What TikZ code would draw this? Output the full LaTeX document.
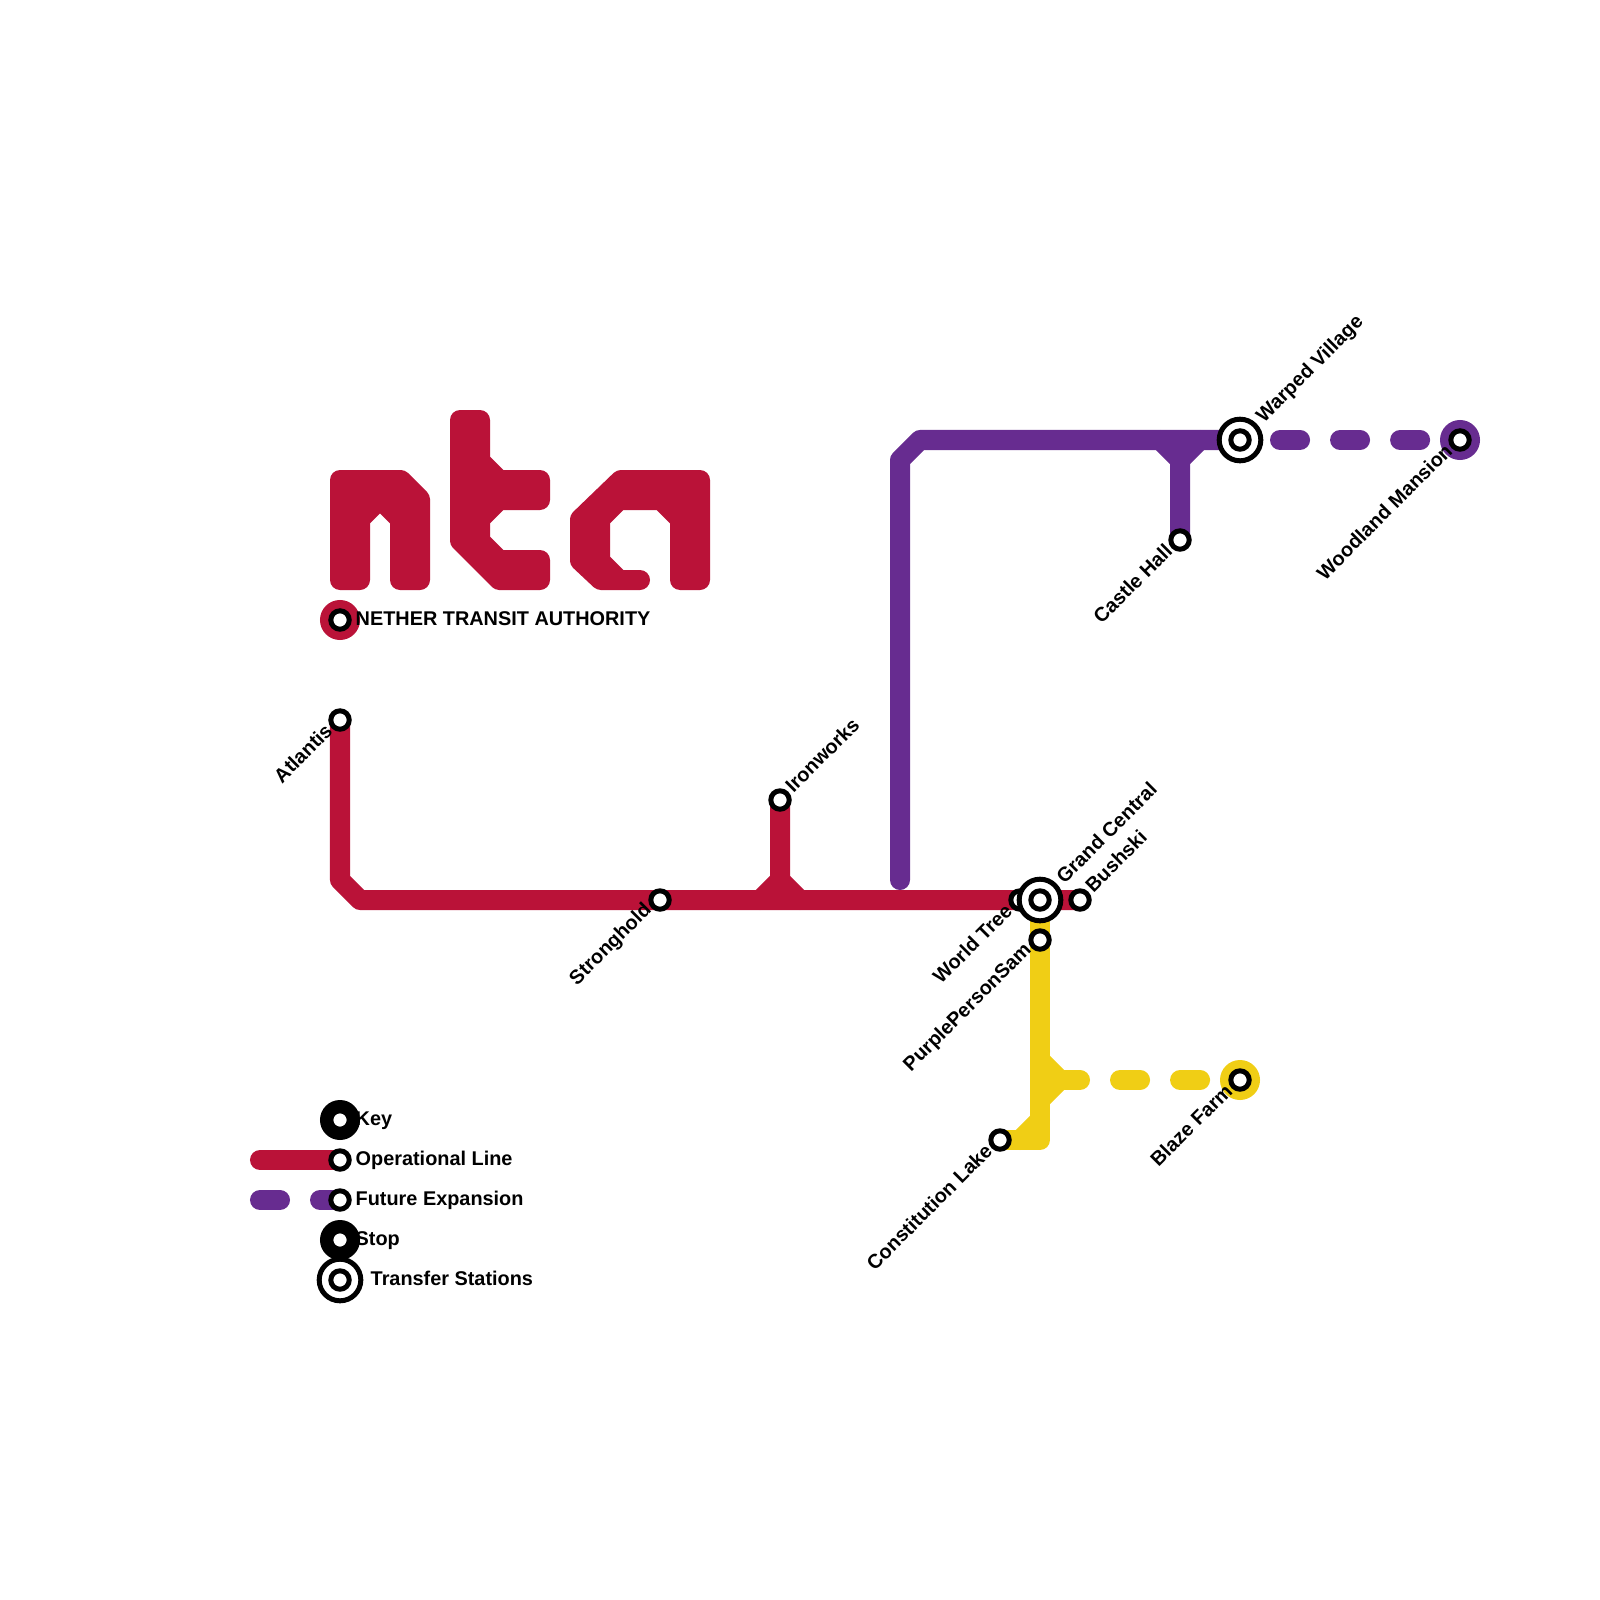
\documentclass[tikz,border=0pt]{standalone}
\usepackage{fontspec}
\setmainfont{Liberation Sans}
\usepackage{xcolor}
\usetikzlibrary{backgrounds}
\definecolor{ntared}{HTML}{BA1238}
\definecolor{ntapurple}{HTML}{672C90}
\definecolor{ntayellow}{HTML}{F0CE15}
\tikzset{
  ln/.style={line width=2mm,line cap=round,line join=round},
  fut/.style={ln,dash pattern=on 2mm off 4mm},
  stn/.style={circle,draw=black,fill=white,line width=0.5mm,minimum size=1.84mm,inner sep=0pt},
  xfer/.style={stn,minimum size=4.16mm,path picture={\draw[line width=0.5mm] (path picture bounding box.center) circle (0.92mm);}},
  halo/.style={circle,fill=#1,minimum size=4mm,inner sep=0pt},
  txt/.style={font=\bfseries\fontsize{5.65}{7}\selectfont,inner sep=0pt,text=black},
  lblne/.style={txt,rotate=45,anchor=west},
  lblsw/.style={txt,rotate=45,anchor=east},
  keytxt/.style={txt,anchor=base west}
}
\begin{document}
\begin{tikzpicture}[x=0.01cm,y=-0.01cm]
\useasboundingbox (0,0) rectangle (1600,1600);
\coordinate (redbenda) at (340,880); \coordinate (redbendb) at (360,900);
\coordinate (ironfoot) at (780,880); \coordinate (ironl) at (760,900); \coordinate (ironr) at (800,900);
\coordinate (purpend) at (900,880); \coordinate (purpbenda) at (900,460); \coordinate (purpbendb) at (920,440);
\coordinate (castlefoot) at (1180,460); \coordinate (castlel) at (1160,440); \coordinate (castler) at (1200,440);
\coordinate (yelcorner) at (1040,1140); \coordinate (yeldiaga) at (1040,1120); \coordinate (yeldiagb) at (1020,1140);
\coordinate (yeltop) at (1040,1060); \coordinate (yelmid) at (1060,1080); \coordinate (yelbot) at (1040,1100);
\coordinate (keyredend) at (260,1160); \coordinate (keypurpend) at (260,1200);
\node[halo=ntared] (ntahalo) at (340,620) {}; \node[halo=ntapurple] (woodhalo) at (1460,440) {}; \node[halo=ntayellow] (blazehalo) at (1240,1080) {};
\node[halo=black] (keyhalo) at (340,1120) {}; \node[halo=black] (stophalo) at (340,1240) {};
\node[stn] (nta) at (ntahalo) {}; \node[stn] (woodland) at (woodhalo) {}; \node[stn] (blaze) at (blazehalo) {};
\node[stn] (keystn) at (keyhalo) {}; \node[stn] (stopstn) at (stophalo) {};
\node[stn] (atlantis) at (340,720) {}; \node[stn] (stronghold) at (660,900) {}; \node[stn] (ironworks) at (780,800) {};
\node[stn] (worldtree) at (1020,900) {}; \node[stn] (bushski) at (1080,900) {}; \node[stn] (purpleperson) at (1040,940) {};
\node[stn] (constitution) at (1000,1140) {}; \node[stn] (castle) at (1180,540) {};
\node[xfer] (grand) at (1040,900) {}; \node[xfer] (warped) at (1240,440) {};
\node[stn] (keyred) at (340,1160) {}; \node[stn] (keypurp) at (340,1200) {}; \node[xfer] (keyxfer) at (340,1280) {};
\begin{pgfonlayer}{background}
\fill[ntared,rounded corners=1mm] (330,470) [rounded corners=0.4mm] -- (405,470) -- (430,495) [rounded corners=1mm] -- (430,590) -- (390,590) [sharp corners] -- (390,523.3) -- (380,513.3) -- (370,523.3) [rounded corners=1mm] -- (370,590) -- (330,590) -- cycle;
\fill[ntared,rounded corners=1mm] (450,410) -- (490,410) [sharp corners] -- (490,456.7) -- (503.3,470) [rounded corners=1mm] -- (550,470) -- (550,510) [sharp corners] -- (503.3,510) -- (490,523.3) -- (490,536.7) -- (503.3,550) [rounded corners=1mm] -- (550,550) -- (550,590) [rounded corners=0.4mm] -- (495,590) -- (450,545) [rounded corners=1mm] -- cycle;
\fill[ntared,rounded corners=0.4mm] (570,515) -- (616.7,470) [rounded corners=1mm] -- (710,470) -- (710,590) -- (670,590) [sharp corners] -- (670,523.3) -- (656.7,510) -- (623.3,510) -- (610,523.3) -- (610,556.7) -- (623.3,570) [rounded corners=1mm] -- (650,570) -- (650,590) [rounded corners=0.4mm] -- (596.7,590) -- (570,565) -- cycle;
\draw[ln,ntayellow] (grand.center) -- (yelcorner) -- (constitution.center); \draw[ln,ntayellow] (yeldiaga) -- (yeldiagb);
\draw[ln,ntayellow] (yeltop) -- (yelmid) -- (yelbot);
\draw[fut,ntayellow] (yelmid) -- (blaze.center);
\draw[ln,ntared] (atlantis.center) -- (redbenda) -- (redbendb) -- (bushski.center);
\draw[ln,ntared] (ironworks.center) -- (ironfoot) -- (ironl); \draw[ln,ntared] (ironfoot) -- (ironr);
\draw[ln,ntapurple] (purpend) -- (purpbenda) -- (purpbendb) -- (warped.center);
\draw[ln,ntapurple] (castle.center) -- (castlefoot) -- (castlel); \draw[ln,ntapurple] (castlefoot) -- (castler);
\draw[fut,dash phase=2mm,ntapurple] (warped.center) -- (woodland.center);
\draw[ln,ntared] (keyredend) -- (keyred.center);
\draw[fut,ntapurple] (keypurpend) -- (keypurp.center);
\end{pgfonlayer}
\node[keytxt] (ntatxt) at (355,625) {NETHER TRANSIT AUTHORITY};
\node[lblsw] (atlantistxt) at (329,727) {Atlantis};
\node[lblne] (ironworkstxt) at (788,789) {Ironworks};
\node[lblsw] (strongholdtxt) at (649,907) {Stronghold};
\node[lblsw] (worldtreetxt) at (1009,907) {World Tree};
\node[lblsw] (purplepersontxt) at (1029,947) {PurplePersonSam};
\node[lblne] (grandtxt) at (1059,880) {Grand Central};
\node[lblne] (bushskitxt) at (1088,889) {Bushski};
\node[lblsw] (constitutiontxt) at (989,1147) {Constitution Lake};
\node[lblsw] (blazetxt) at (1229,1087) {Blaze Farm};
\node[lblsw] (castletxt) at (1169,547) {Castle Hall};
\node[lblne] (warpedtxt) at (1260,420) {Warped Village};
\node[lblsw] (woodlandtxt) at (1449,447) {Woodland Mansion};
\node[keytxt] (keytxt1) at (355,1125) {Key};
\node[keytxt] (keytxt2) at (355,1165) {Operational Line};
\node[keytxt] (keytxt3) at (355,1205) {Future Expansion};
\node[keytxt] (keytxt4) at (355,1245) {Stop};
\node[keytxt] (keytxt5) at (370,1285) {Transfer Stations};
\end{tikzpicture}
\end{document}
